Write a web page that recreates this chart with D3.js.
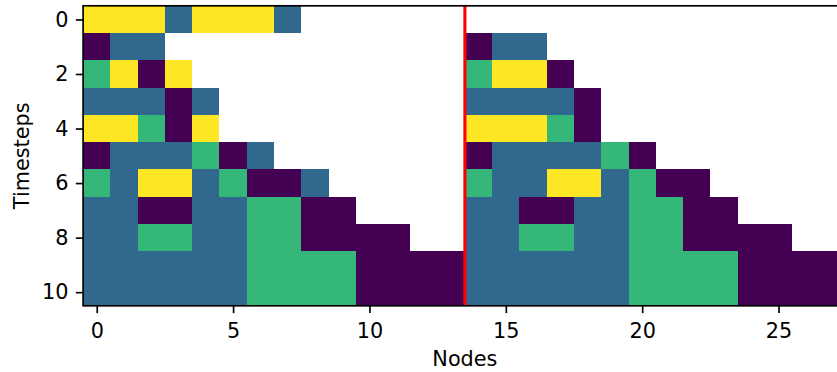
<!DOCTYPE html>
<html>
<head>
<meta charset="utf-8">
<script src="https://cdn.jsdelivr.net/npm/d3@7"></script>
<style>
  html, body { margin: 0; padding: 0; background: #fff; }
  svg { display: block; }
  text { font-family: "DejaVu Sans", sans-serif; fill: #000; }
</style>
</head>
<body>
<div id="chart"></div>
<script>
// ---- data (cell values 0..3, null = empty) ----
const nodes = d3.range(28);
const timesteps = d3.range(11);
const xTickValues = [0, 5, 10, 15, 20, 25];
const yTickValues = [0, 2, 4, 6, 8, 10];
const dividerNode = 13.5;

// left half (nodes 0-13) per timestep
const leftRow0  = [3,3,3,1,3,3,3,1];
const leftRow1  = [0,1,1];
const leftRow2  = [2,3,0,3];
const leftRow3  = [1,1,1,0,1];
const leftRow4  = [3,3,2,0,3];
const leftRow5  = [0,1,1,1,2,0,1];
const leftRow6  = [2,1,3,3,1,2,0,0,1];
const leftRow7  = [1,1,0,0,1,1,2,2,0,0];
const leftRow8  = [1,1,2,2,1,1,2,2,0,0,0,0];
const leftRow9  = [1,1,1,1,1,1,2,2,2,2,0,0,0,0];
const leftRow10 = [1,1,1,1,1,1,2,2,2,2,0,0,0,0];

// right half (nodes 14-27) per timestep
const rightRow0  = [];
const rightRow1  = [0,1,1];
const rightRow2  = [2,3,3,0];
const rightRow3  = [1,1,1,1,0];
const rightRow4  = [3,3,3,2,0];
const rightRow5  = [0,1,1,1,1,2,0];
const rightRow6  = [2,1,1,3,3,1,2,0,0];
const rightRow7  = [1,1,0,0,1,1,2,2,0,0];
const rightRow8  = [1,1,2,2,1,1,2,2,0,0,0,0];
const rightRow9  = [1,1,1,1,1,1,2,2,2,2,0,0,0,0];
const rightRow10 = [1,1,1,1,1,1,2,2,2,2,0,0,0,0];

const leftRows  = [leftRow0,leftRow1,leftRow2,leftRow3,leftRow4,leftRow5,leftRow6,leftRow7,leftRow8,leftRow9,leftRow10];
const rightRows = [rightRow0,rightRow1,rightRow2,rightRow3,rightRow4,rightRow5,rightRow6,rightRow7,rightRow8,rightRow9,rightRow10];

// build cell list
const half = 14;
const cells = [];
timesteps.forEach(t => {
  leftRows[t].forEach((v, i) => cells.push({t, n: i, v}));
  rightRows[t].forEach((v, i) => cells.push({t, n: half + i, v}));
});

// ---- layout ----
const W = 837, H = 372;
const fs = 20.8;
const plot = {left: 83.1, right: 846.7, top: 5.8, bottom: 305.8};

const x = d3.scaleLinear().domain([-0.5, 27.5]).range([plot.left, plot.right]);
const y = d3.scaleLinear().domain([-0.5, 10.5]).range([plot.top, plot.bottom]);
const color = d3.scaleSequential(d3.interpolateViridis).domain([0, 3]);

const svg = d3.select("#chart").append("svg")
  .attr("width", W).attr("height", H);

svg.append("g")
  .selectAll("rect")
  .data(cells)
  .join("rect")
  .attr("x", d => x(d.n - 0.5))
  .attr("y", d => y(d.t - 0.5))
  .attr("width", d => x(d.n + 0.5) - x(d.n - 0.5))
  .attr("height", d => y(d.t + 0.5) - y(d.t - 0.5))
  .attr("fill", d => color(d.v))
  .attr("shape-rendering", "crispEdges");

// divider line
svg.append("line")
  .attr("x1", x(dividerNode)).attr("x2", x(dividerNode))
  .attr("y1", plot.top).attr("y2", plot.bottom)
  .attr("stroke", "red").attr("stroke-width", 3.1);

// spines
svg.append("rect")
  .attr("x", plot.left).attr("y", plot.top)
  .attr("width", plot.right - plot.left)
  .attr("height", plot.bottom - plot.top)
  .attr("fill", "none").attr("stroke", "#000").attr("stroke-width", 1.67);

// axes
const xAxis = d3.axisBottom(x).tickValues(xTickValues).tickSize(7.3).tickPadding(10).tickFormat(d3.format("d"));
const gx = svg.append("g").attr("transform", `translate(0,${plot.bottom})`).call(xAxis);
gx.select(".domain").remove();
gx.selectAll(".tick line").attr("stroke", "#000").attr("stroke-width", 1.67);
gx.selectAll(".tick text").attr("font-size", fs).attr("font-family", "DejaVu Sans").attr("fill", "#000");

const yAxis = d3.axisLeft(y).tickValues(yTickValues).tickSize(7.3).tickPadding(7.4).tickFormat(d3.format("d"));
const gy = svg.append("g").attr("transform", `translate(${plot.left},0)`).call(yAxis);
gy.select(".domain").remove();
gy.selectAll(".tick line").attr("stroke", "#000").attr("stroke-width", 1.67);
gy.selectAll(".tick text").attr("font-size", fs).attr("font-family", "DejaVu Sans").attr("fill", "#000");

// axis labels
svg.append("text")
  .attr("x", (plot.left + plot.right) / 2).attr("y", 366)
  .attr("text-anchor", "middle").attr("font-size", fs)
  .text("Nodes");

svg.append("text")
  .attr("transform", `translate(28.5,${(plot.top + plot.bottom) / 2}) rotate(-90)`)
  .attr("text-anchor", "middle").attr("font-size", fs)
  .text("Timesteps");
</script>
</body>
</html>
